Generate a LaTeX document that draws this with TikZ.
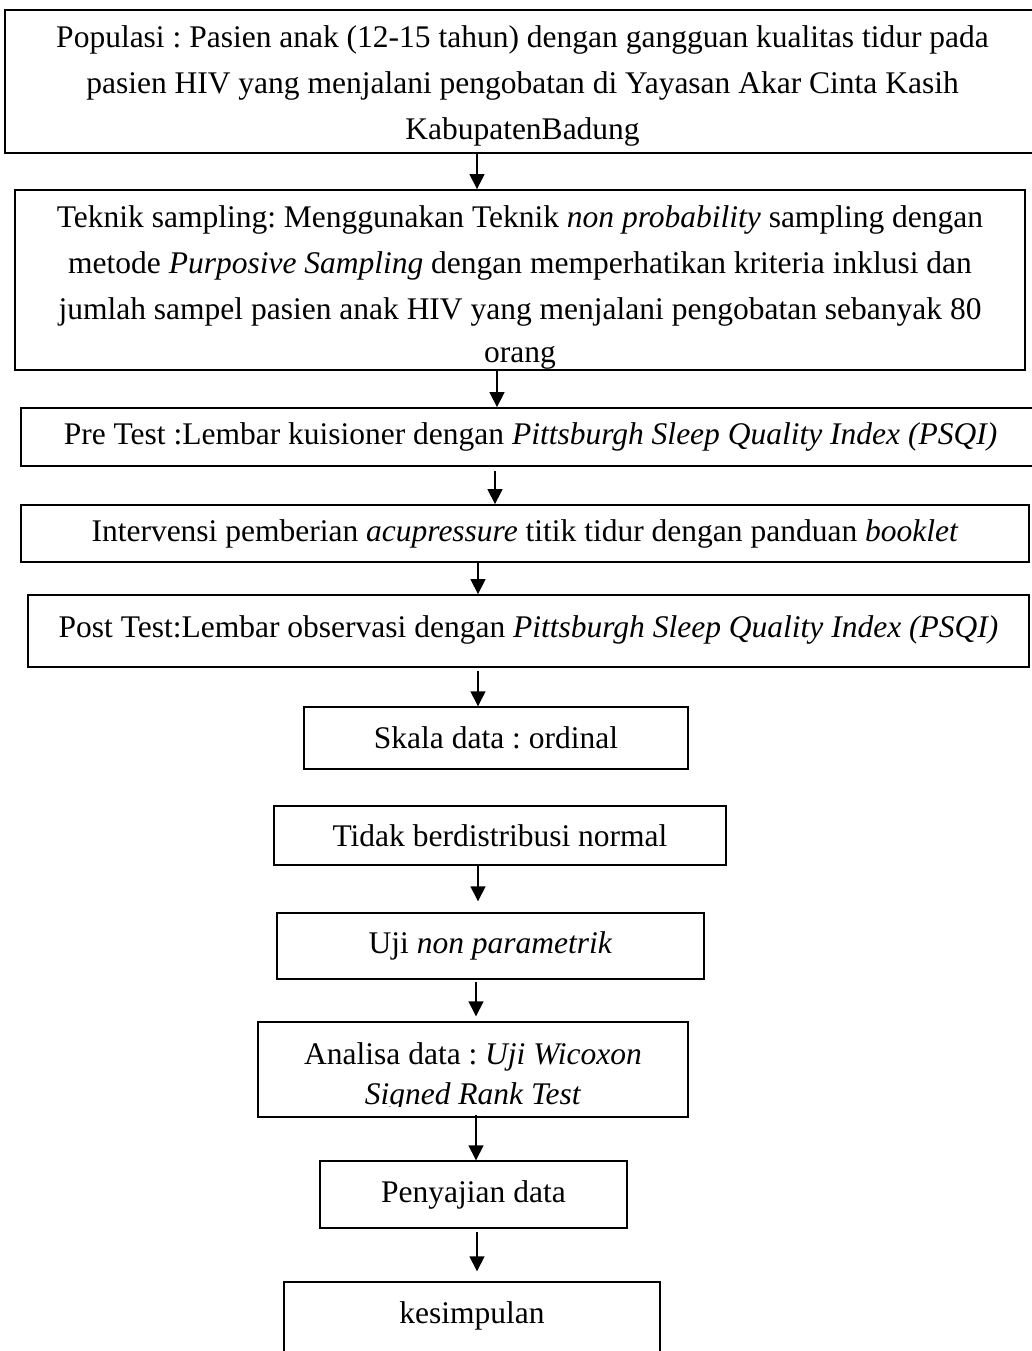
\documentclass[tikz,border=0pt]{standalone}
\usepackage{fontspec}
\setmainfont{Liberation Serif}
\frenchspacing
\usepackage{tikz}
\usetikzlibrary{arrows.meta, shapes, positioning}

\begin{document}
\begin{tikzpicture}[x=1pt, y=-1pt]
 \tikzstyle{bigbox}=[rectangle, draw, line width=1.8pt, align=center, inner sep=0pt,
   font=\fontsize{31.5pt}{46pt}\selectfont]
 \tikzstyle{smallbox}=[rectangle, draw, line width=1.4pt, align=center, inner sep=0pt,
   font=\fontsize{31.5pt}{40pt}\selectfont]
 \tikzstyle{line} = [draw, line width=1.4pt, -{Triangle[length=15pt, width=15pt]}]

 \useasboundingbox (0, 0) rectangle (1031, 1351);

 \begin{scope}
  \draw (522.5, 81.5) node[bigbox, minimum width=1035pt, minimum height=143pt] (pop)
   {\rule{0pt}{30pt}Populasi : Pasien anak (12-15 tahun) dengan gangguan kualitas tidur pada\\
    pasien HIV yang menjalani pengobatan di Yayasan Akar Cinta Kasih\\
    KabupatenBadung};
  \draw (520, 280) node[bigbox, minimum width=1010pt, minimum height=180pt, text depth=5pt] (tek)
   {\rule{0pt}{35pt}Teknik sampling: Menggunakan Teknik \textit{non probability} sampling dengan\\
    metode \textit{Purposive Sampling} dengan memperhatikan kriteria inklusi dan\\
    jumlah sampel pasien anak HIV yang menjalani pengobatan sebanyak 80\\[-3pt]
    orang};
  \draw (530.5, 437) node[bigbox, minimum width=1019pt, minimum height=58pt] (pre)
   {Pre Test :Lembar kuisioner dengan \textit{Pittsburgh Sleep Quality Index (PSQI)}};
  \draw (525, 533.5) node[bigbox, minimum width=1008pt, minimum height=57pt] (intv)
   {Intervensi pemberian \textit{acupressure} titik tidur dengan panduan \textit{booklet}};
  \draw (528.5, 631) node[bigbox, minimum width=1001pt, minimum height=72pt, text depth=8pt] (post)
   {Post Test:Lembar observasi dengan \textit{Pittsburgh Sleep Quality Index (PSQI)}};
 \end{scope}

 \begin{scope}
  \draw (496, 738) node[smallbox, minimum width=384pt, minimum height=62pt] (skala)
   {Skala data : ordinal};
  \draw (500, 835.5) node[smallbox, minimum width=452pt, minimum height=59pt] (normal)
   {Tidak berdistribusi normal};
  \draw (490.5, 946) node[smallbox, minimum width=427pt, minimum height=66pt] (uji)
   {Uji \textit{non parametrik}};
  \draw (473, 1069.5) node[smallbox, minimum width=430pt, minimum height=95pt] (ana) {};
  \begin{scope}
   \clip (ana.north west) rectangle ([yshift=11pt]ana.south east);
   \draw (473, 1077) node[align=center, font=\fontsize{31.5pt}{40pt}\selectfont] (anatext)
    {Analisa data : \textit{Uji Wicoxon}\\ \textit{Signed Rank Test}};
  \end{scope}
  \draw (473.5, 1194.5) node[smallbox, minimum width=307pt, minimum height=67pt] (saji)
   {Penyajian data};
  \draw (472, 1323.5) node[smallbox, minimum width=376pt, minimum height=83pt, text depth=22pt] (simpul)
   {kesimpulan};
 \end{scope}

 \coordinate (c1) at (477, 0);
 \coordinate (c2) at (497, 0);
 \coordinate (c3) at (495, 0);
 \coordinate (c4) at (478, 0);
 \coordinate (c5) at (476, 0);

 \path [line] (pop.south -| c1) -- (tek.north -| c1);
 \path [line] (tek.south -| c2) -- (pre.north -| c2);
 \path [line] ([yshift=-4pt]pre.south -| c3) -- (intv.north -| c3);
 \path [line] (intv.south -| c4) -- (post.north -| c4);
 \path [line] ([yshift=-3pt]post.south -| c4) -- (skala.north -| c4);
 \path [line] (normal.south -| c4) -- ([yshift=11pt]uji.north -| c4);
 \path [line] ([yshift=-2pt]uji.south -| c5) -- ([yshift=5pt]ana.north -| c5);
 \path [line] ([yshift=3pt]ana.south -| c5) -- (saji.north -| c5);
 \path [line] ([yshift=-3pt]saji.south -| c1) -- ([yshift=10pt]simpul.north -| c1);
\end{tikzpicture}
\end{document}
